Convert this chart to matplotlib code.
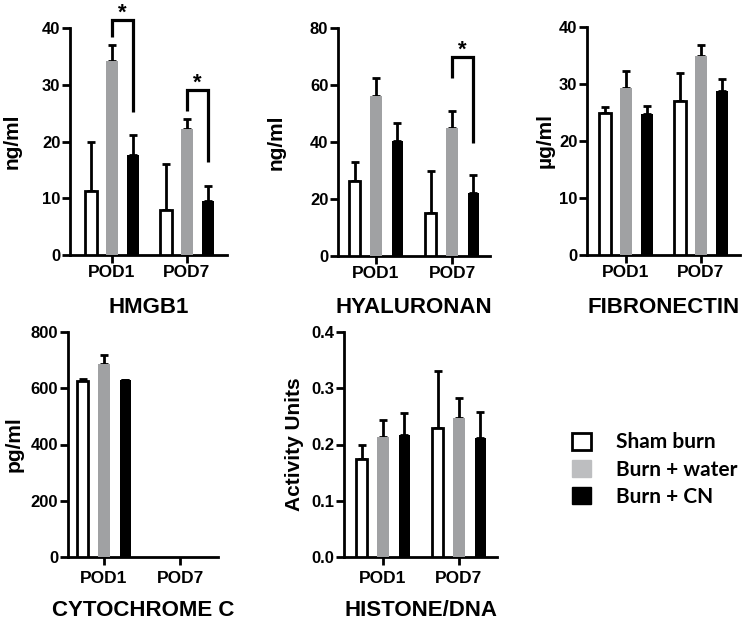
import numpy as np
import matplotlib
matplotlib.use("Agg")
import matplotlib.pyplot as plt
from matplotlib.patches import Patch

groups = ["POD1", "POD7"]
series = ["Sham burn", "Burn + water", "Burn + CN"]
colors = ["white", "#A0A1A3", "black"]

hmgb1_means = [[11.2, 8.0], [34.2, 22.2], [17.7, 9.6]]
hmgb1_errs = [[8.8, 8.0], [2.8, 1.8], [3.5, 2.6]]
hyal_means = [[26.3, 15.0], [56.0, 44.8], [40.2, 22.0]]
hyal_errs = [[6.7, 15.0], [6.5, 6.2], [6.6, 6.3]]
fibro_means = [[25.0, 27.0], [29.3, 34.9], [24.7, 28.8]]
fibro_errs = [[1.0, 5.0], [2.9, 1.9], [1.4, 2.1]]
cyto_means = [[625, np.nan], [688, np.nan], [628, np.nan]]
cyto_errs = [[7, np.nan], [32, np.nan], [2, np.nan]]
hist_means = [[0.175, 0.229], [0.213, 0.247], [0.217, 0.211]]
hist_errs = [[0.025, 0.101], [0.030, 0.036], [0.039, 0.047]]

FONT = ["Liberation Sans", "DejaVu Sans"]
plt.rcParams['font.family'] = FONT
plt.rcParams['font.weight'] = 'bold'

W, H = 752, 621
fig = plt.figure(figsize=(W / 100, H / 100), dpi=100)


def px_axes(left, right, top, bottom):
    return fig.add_axes([left / W, 1 - bottom / H, (right - left) / W, (bottom - top) / H])


OFF = 0.28
BW = 0.15


def panel(rect, centers_px, means, errs, ymax, yticks, ylabel, title, title_base, ylabel_x,
          xpad, ticklabels=None):
    left, right, top, bottom = rect
    c0, c1 = centers_px
    unit = c1 - c0
    ax = px_axes(left, right, top, bottom)
    x = np.arange(len(groups))
    for i in range(3):
        xs = x + (i - 1) * OFF
        m = np.array(means[i], dtype=float)
        e = np.array(errs[i], dtype=float)
        ax.bar(xs, m, width=BW, color=colors[i],
               edgecolor="black" if i != 1 else colors[i],
               linewidth=2 if i == 0 else 0, zorder=3)
        ax.errorbar(xs, m, yerr=[np.zeros_like(e), e], fmt="none", ecolor="black",
                    elinewidth=2, capsize=3, capthick=2, zorder=2)
    ax.set_xlim((left - c0) / unit, (right - c0) / unit)
    ax.set_ylim(0, ymax)
    ax.set_yticks(yticks)
    if ticklabels is not None:
        ax.set_yticklabels(ticklabels)
    ax.set_xticks(x)
    ax.set_xticklabels(groups)
    for s in ["top", "right"]:
        ax.spines[s].set_visible(False)
    for s in ["left", "bottom"]:
        ax.spines[s].set_linewidth(2)
    ax.tick_params(axis="y", width=2, length=5.5, labelsize=12, pad=1.5)
    ax.tick_params(axis="x", width=2, length=5.5, labelsize=12.5, pad=xpad)
    for lab in ax.get_xticklabels() + ax.get_yticklabels():
        lab.set_fontweight("bold")
    fig.text(ylabel_x / W, 1 - ((top + bottom) / 2) / H, ylabel, rotation=90,
             ha="center", va="center", fontsize=15, fontweight="bold")
    fig.text(((left + right) / 2) / W, 1 - title_base / H, title, ha="center", va="baseline",
             fontsize=16, fontweight="bold")
    return ax


def bracket(ax, gi, top, lbot, rbot):
    xl = gi + 0 * OFF
    xr = gi + 1 * OFF
    ax.plot([xl, xl, xr, xr], [lbot, top, top, rbot], color="black", lw=2.3,
            solid_joinstyle="miter", solid_capstyle="butt", clip_on=False, zorder=5)
    ax.annotate("*", xy=((xl + xr) / 2, top), xytext=(0, 1), textcoords="offset points",
                ha="center", va="baseline", fontsize=16, fontweight="bold",
                annotation_clip=False)


ax1 = panel((70, 227, 28, 255), (112, 187), hmgb1_means, hmgb1_errs, 40,
            [0, 10, 20, 30, 40], "ng/ml", "HMGB1", 313, 12, 2)
bracket(ax1, 0, 41.4, 38.4, 25.2)
bracket(ax1, 1, 29.0, 25.4, 16.4)

ax2 = panel((338, 490, 28, 256), (376, 452), hyal_means, hyal_errs, 80,
            [0, 20, 40, 60, 80], "ng/ml", "HYALURONAN", 313, 276, 2)
bracket(ax2, 1, 69.8, 62.4, 39.6)

ax3 = panel((587, 740, 27, 255), (626, 701), fibro_means, fibro_errs, 40,
            [0, 10, 20, 30, 40], "\u00b5g/ml", "FIBRONECTIN", 313, 545, 2)

ax4 = panel((68, 218, 332, 557), (104, 180), cyto_means, cyto_errs, 800,
            [0, 200, 400, 600, 800], "pg/ml", "CYTOCHROME C", 616, 14, 4.5)

ax5 = panel((344, 497, 332, 557), (383, 459), hist_means, hist_errs, 0.4,
            [0.0, 0.1, 0.2, 0.3, 0.4], "Activity Units", "HISTONE/DNA", 616, 295, 4.5,
            ticklabels=["0.0", "0.1", "0.2", "0.3", "0.4"])

handles = [Patch(facecolor=colors[0], edgecolor="black", linewidth=2),
           Patch(facecolor="#BDBEC0", edgecolor="#BDBEC0"),
           Patch(facecolor="black", edgecolor="black")]
fig.legend(handles, series, loc="upper left", bbox_to_anchor=(562 / W, 1 - 422 / H),
           frameon=False, prop={"family": ["Lato", "DejaVu Sans"], "weight": "bold", "size": 15},
           handlelength=0.9, handleheight=0.9, handletextpad=1.2, labelspacing=0.35,
           borderpad=0)

fig.savefig("out.png", dpi=100)
